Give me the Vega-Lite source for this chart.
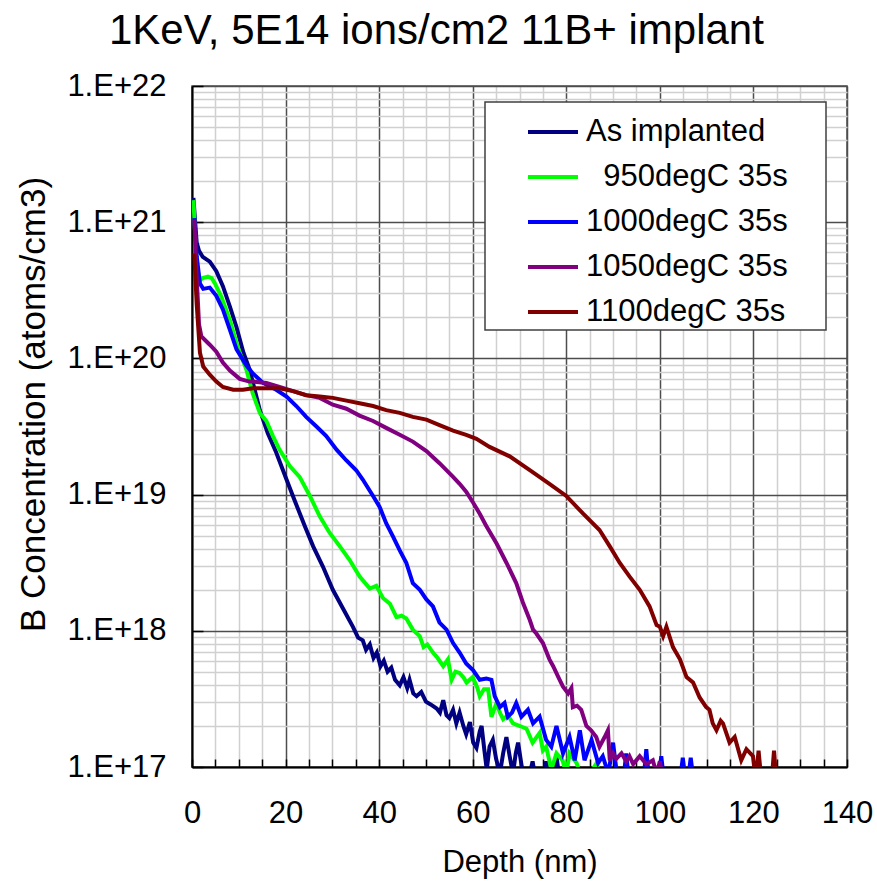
{
"$schema": "https://vega.github.io/schema/vega-lite/v6.json",
"width": 655, "height": 681,
"autosize": {"type": "none"},
"padding": {"left": 192, "top": 86, "right": 30, "bottom": 117},
"background": "white",
"title": {"text": "1KeV, 5E14 ions/cm2 11B+ implant", "font": "Liberation Sans", "fontSize": 42, "fontWeight": "normal", "color": "#000000", "anchor": "middle", "frame": "bounds", "offset": 30, "baseline": "alphabetic", "dy": 46, "dx": -8},
"config": {"view": {"stroke": "#4d4d4d", "strokeWidth": 1.5}, "font": "Liberation Sans", "legend": {"strokeWidth": 1.5}},
"datasets": {"p": [
{"s":"As implanted","d":0.3,"c":1.51e21},{"s":"As implanted","d":1.0,"c":7.08e20},{"s":"As implanted","d":1.5,"c":6.17e20},{"s":"As implanted","d":2.3,"c":5.56e20},{"s":"As implanted","d":3.8,"c":5.13e20},{"s":"As implanted","d":5.2,"c":4.37e20},{"s":"As implanted","d":6.6,"c":3.39e20},{"s":"As implanted","d":8.1,"c":2.40e20},{"s":"As implanted","d":9.5,"c":1.70e20},{"s":"As implanted","d":11.0,"c":1.10e20},{"s":"As implanted","d":12.3,"c":8.32e19},{"s":"As implanted","d":13.4,"c":5.89e19},{"s":"As implanted","d":14.5,"c":4.17e19},{"s":"As implanted","d":16.2,"c":2.82e19},{"s":"As implanted","d":18.0,"c":2.04e19},{"s":"As implanted","d":20.2,"c":1.29e19},{"s":"As implanted","d":21.9,"c":9.12e18},{"s":"As implanted","d":24.1,"c":5.89e18},{"s":"As implanted","d":25.9,"c":4.17e18},{"s":"As implanted","d":28.0,"c":2.95e18},{"s":"As implanted","d":30.1,"c":2.00e18},{"s":"As implanted","d":32.3,"c":1.45e18},{"s":"As implanted","d":34.4,"c":1.07e18},{"s":"As implanted","d":35.5,"c":8.91e17},{"s":"As implanted","d":36.5,"c":8.51e17},{"s":"As implanted","d":37.2,"c":7.24e17},{"s":"As implanted","d":38.0,"c":7.94e17},{"s":"As implanted","d":38.8,"c":6.31e17},{"s":"As implanted","d":39.5,"c":6.92e17},{"s":"As implanted","d":40.3,"c":5.50e17},{"s":"As implanted","d":41.0,"c":6.03e17},{"s":"As implanted","d":41.8,"c":5.01e17},{"s":"As implanted","d":42.6,"c":5.37e17},{"s":"As implanted","d":43.4,"c":4.37e17},{"s":"As implanted","d":44.4,"c":3.98e17},{"s":"As implanted","d":45.2,"c":4.57e17},{"s":"As implanted","d":46.0,"c":3.80e17},{"s":"As implanted","d":46.5,"c":4.37e17},{"s":"As implanted","d":47.3,"c":3.47e17},{"s":"As implanted","d":48.0,"c":3.31e17},{"s":"As implanted","d":49.0,"c":3.55e17},{"s":"As implanted","d":50.0,"c":3.02e17},{"s":"As implanted","d":51.0,"c":2.88e17},{"s":"As implanted","d":52.3,"c":2.69e17},{"s":"As implanted","d":53.0,"c":2.51e17},{"s":"As implanted","d":53.7,"c":3.09e17},{"s":"As implanted","d":54.4,"c":2.40e17},{"s":"As implanted","d":55.0,"c":2.29e17},{"s":"As implanted","d":55.8,"c":2.63e17},{"s":"As implanted","d":56.5,"c":2.09e17},{"s":"As implanted","d":57.2,"c":2.51e17},{"s":"As implanted","d":58.0,"c":2.00e17},{"s":"As implanted","d":58.6,"c":1.74e17},{"s":"As implanted","d":59.4,"c":2.14e17},{"s":"As implanted","d":60.1,"c":1.51e17},{"s":"As implanted","d":60.8,"c":1.38e17},{"s":"As implanted","d":61.5,"c":1.82e17},{"s":"As implanted","d":61.9,"c":2.00e17},{"s":"As implanted","d":62.5,"c":1.32e17},{"s":"As implanted","d":63.0,"c":9.55e16},{"s":"As implanted","d":63.6,"c":1.41e17},{"s":"As implanted","d":64.3,"c":1.58e17},{"s":"As implanted","d":65.0,"c":1.15e17},{"s":"As implanted","d":65.8,"c":8.91e16},{"s":"As implanted","d":66.5,"c":1.26e17},{"s":"As implanted","d":67.2,"c":1.66e17},{"s":"As implanted","d":67.9,"c":1.20e17},{"s":"As implanted","d":68.6,"c":8.91e16},{"s":"As implanted","d":69.2,"c":1.26e17},{"s":"As implanted","d":69.7,"c":1.51e17},{"s":"As implanted","d":70.4,"c":1.05e17},{"s":"As implanted","d":71.0,"c":7.94e16},{"s":"As implanted","d":72.2,"c":8.91e16},{"s":"As implanted","d":72.8,"c":1.10e17},{"s":"As implanted","d":73.5,"c":7.94e16},{"s":"As implanted","d":75.0,"c":8.32e16},{"s":"As implanted","d":75.7,"c":1.10e17},{"s":"As implanted","d":76.4,"c":7.94e16},{"s":"As implanted","d":77.3,"c":8.5e16},{"s":"As implanted","d":77.9,"c":1.20e17},{"s":"As implanted","d":78.6,"c":7.94e16},

{"s":"950degC 35s","d":0.3,"c":1.45e21},{"s":"950degC 35s","d":1.0,"c":5.01e20},{"s":"950degC 35s","d":1.6,"c":3.72e20},{"s":"950degC 35s","d":2.3,"c":3.89e20},{"s":"950degC 35s","d":3.4,"c":3.98e20},{"s":"950degC 35s","d":4.2,"c":3.89e20},{"s":"950degC 35s","d":4.9,"c":3.55e20},{"s":"950degC 35s","d":6.3,"c":2.82e20},{"s":"950degC 35s","d":8.1,"c":1.91e20},{"s":"950degC 35s","d":9.8,"c":1.20e20},{"s":"950degC 35s","d":11.6,"c":8.32e19},{"s":"950degC 35s","d":13.0,"c":5.50e19},{"s":"950degC 35s","d":14.5,"c":3.98e19},{"s":"950degC 35s","d":15.9,"c":3.47e19},{"s":"950degC 35s","d":17.3,"c":2.69e19},{"s":"950degC 35s","d":18.7,"c":2.14e19},{"s":"950degC 35s","d":20.9,"c":1.62e19},{"s":"950degC 35s","d":23.0,"c":1.35e19},{"s":"950degC 35s","d":25.2,"c":9.77e18},{"s":"950degC 35s","d":27.3,"c":6.92e18},{"s":"950degC 35s","d":29.4,"c":5.25e18},{"s":"950degC 35s","d":31.6,"c":4.17e18},{"s":"950degC 35s","d":33.7,"c":3.31e18},{"s":"950degC 35s","d":35.8,"c":2.51e18},{"s":"950degC 35s","d":38.0,"c":2.04e18},{"s":"950degC 35s","d":39.4,"c":2.14e18},{"s":"950degC 35s","d":40.8,"c":1.74e18},{"s":"950degC 35s","d":42.3,"c":1.58e18},{"s":"950degC 35s","d":43.7,"c":1.26e18},{"s":"950degC 35s","d":44.8,"c":1.29e18},{"s":"950degC 35s","d":45.8,"c":1.23e18},{"s":"950degC 35s","d":47.2,"c":1.02e18},{"s":"950degC 35s","d":48.7,"c":9.12e17},{"s":"950degC 35s","d":49.5,"c":7.59e17},{"s":"950degC 35s","d":50.3,"c":7.94e17},{"s":"950degC 35s","d":51.5,"c":6.92e17},{"s":"950degC 35s","d":52.5,"c":6.31e17},{"s":"950degC 35s","d":53.7,"c":5.50e17},{"s":"950degC 35s","d":54.7,"c":6.17e17},{"s":"950degC 35s","d":55.5,"c":4.37e17},{"s":"950degC 35s","d":56.3,"c":5.01e17},{"s":"950degC 35s","d":57.2,"c":4.90e17},{"s":"950degC 35s","d":58.0,"c":4.57e17},{"s":"950degC 35s","d":58.7,"c":4.17e17},{"s":"950degC 35s","d":60.0,"c":4.57e17},{"s":"950degC 35s","d":61.0,"c":3.80e17},{"s":"950degC 35s","d":61.5,"c":3.31e17},{"s":"950degC 35s","d":62.4,"c":3.72e17},{"s":"950degC 35s","d":63.3,"c":3.72e17},{"s":"950degC 35s","d":64.0,"c":2.34e17},{"s":"950degC 35s","d":65.1,"c":2.95e17},{"s":"950degC 35s","d":65.8,"c":2.51e17},{"s":"950degC 35s","d":66.5,"c":2.24e17},{"s":"950degC 35s","d":67.5,"c":2.40e17},{"s":"950degC 35s","d":68.6,"c":2.09e17},{"s":"950degC 35s","d":70.1,"c":2.00e17},{"s":"950degC 35s","d":71.5,"c":1.91e17},{"s":"950degC 35s","d":72.8,"c":1.51e17},{"s":"950degC 35s","d":74.3,"c":1.78e17},{"s":"950degC 35s","d":75.0,"c":1.32e17},{"s":"950degC 35s","d":75.7,"c":1.41e17},{"s":"950degC 35s","d":76.8,"c":9.55e16},{"s":"950degC 35s","d":77.9,"c":1.26e17},{"s":"950degC 35s","d":79.2,"c":1.12e17},{"s":"950degC 35s","d":80.0,"c":8.91e16},{"s":"950degC 35s","d":80.7,"c":1.26e17},{"s":"950degC 35s","d":82.2,"c":1.07e17},{"s":"950degC 35s","d":83.5,"c":7.94e16},{"s":"950degC 35s","d":85.0,"c":8.91e16},{"s":"950degC 35s","d":86.5,"c":1.07e17},{"s":"950degC 35s","d":87.5,"c":7.94e16},

{"s":"1000degC 35s","d":0.5,"c":1.07e21},{"s":"1000degC 35s","d":1.0,"c":5.62e20},{"s":"1000degC 35s","d":1.7,"c":3.55e20},{"s":"1000degC 35s","d":2.4,"c":3.24e20},{"s":"1000degC 35s","d":3.8,"c":3.31e20},{"s":"1000degC 35s","d":5.2,"c":2.88e20},{"s":"1000degC 35s","d":6.6,"c":2.29e20},{"s":"1000degC 35s","d":8.1,"c":1.62e20},{"s":"1000degC 35s","d":9.5,"c":1.17e20},{"s":"1000degC 35s","d":11.6,"c":8.91e19},{"s":"1000degC 35s","d":13.0,"c":7.76e19},{"s":"1000degC 35s","d":15.2,"c":6.61e19},{"s":"1000degC 35s","d":18.0,"c":5.89e19},{"s":"1000degC 35s","d":20.2,"c":5.25e19},{"s":"1000degC 35s","d":22.3,"c":4.47e19},{"s":"1000degC 35s","d":24.4,"c":3.72e19},{"s":"1000degC 35s","d":26.6,"c":3.16e19},{"s":"1000degC 35s","d":28.7,"c":2.69e19},{"s":"1000degC 35s","d":30.9,"c":2.14e19},{"s":"1000degC 35s","d":33.0,"c":1.78e19},{"s":"1000degC 35s","d":35.1,"c":1.51e19},{"s":"1000degC 35s","d":36.5,"c":1.29e19},{"s":"1000degC 35s","d":38.7,"c":9.77e18},{"s":"1000degC 35s","d":40.1,"c":8.13e18},{"s":"1000degC 35s","d":41.5,"c":6.17e18},{"s":"1000degC 35s","d":43.0,"c":4.90e18},{"s":"1000degC 35s","d":44.4,"c":3.89e18},{"s":"1000degC 35s","d":45.8,"c":3.16e18},{"s":"1000degC 35s","d":47.2,"c":2.24e18},{"s":"1000degC 35s","d":48.7,"c":2.00e18},{"s":"1000degC 35s","d":50.1,"c":1.70e18},{"s":"1000degC 35s","d":51.5,"c":1.51e18},{"s":"1000degC 35s","d":52.9,"c":1.15e18},{"s":"1000degC 35s","d":54.4,"c":1.02e18},{"s":"1000degC 35s","d":55.8,"c":8.13e17},{"s":"1000degC 35s","d":57.2,"c":6.92e17},{"s":"1000degC 35s","d":58.6,"c":5.75e17},{"s":"1000degC 35s","d":60.1,"c":5.13e17},{"s":"1000degC 35s","d":61.5,"c":4.37e17},{"s":"1000degC 35s","d":62.9,"c":4.47e17},{"s":"1000degC 35s","d":64.0,"c":4.37e17},{"s":"1000degC 35s","d":64.7,"c":3.31e17},{"s":"1000degC 35s","d":65.8,"c":2.75e17},{"s":"1000degC 35s","d":66.8,"c":2.95e17},{"s":"1000degC 35s","d":67.5,"c":2.34e17},{"s":"1000degC 35s","d":68.4,"c":2.51e17},{"s":"1000degC 35s","d":69.3,"c":2.95e17},{"s":"1000degC 35s","d":70.4,"c":2.34e17},{"s":"1000degC 35s","d":71.8,"c":2.63e17},{"s":"1000degC 35s","d":72.9,"c":2.09e17},{"s":"1000degC 35s","d":74.3,"c":2.34e17},{"s":"1000degC 35s","d":75.7,"c":1.58e17},{"s":"1000degC 35s","d":76.8,"c":1.41e17},{"s":"1000degC 35s","d":77.9,"c":2.00e17},{"s":"1000degC 35s","d":79.3,"c":1.26e17},{"s":"1000degC 35s","d":80.7,"c":1.66e17},{"s":"1000degC 35s","d":81.8,"c":1.12e17},{"s":"1000degC 35s","d":82.9,"c":1.86e17},{"s":"1000degC 35s","d":83.9,"c":1.12e17},{"s":"1000degC 35s","d":85.4,"c":1.58e17},{"s":"1000degC 35s","d":86.8,"c":1.07e17},{"s":"1000degC 35s","d":87.8,"c":1.20e17},{"s":"1000degC 35s","d":89.0,"c":8.91e16},{"s":"1000degC 35s","d":90.0,"c":1.51e17},{"s":"1000degC 35s","d":91.0,"c":7.94e16},{"s":"1000degC 35s","d":92.2,"c":7.94e16},{"s":"1000degC 35s","d":92.8,"c":1.26e17},{"s":"1000degC 35s","d":93.4,"c":7.94e16},{"s":"1000degC 35s","d":96.5,"c":7.94e16},{"s":"1000degC 35s","d":97.1,"c":1.35e17},{"s":"1000degC 35s","d":97.7,"c":7.94e16},{"s":"1000degC 35s","d":99.7,"c":7.94e16},{"s":"1000degC 35s","d":100.3,"c":1.20e17},{"s":"1000degC 35s","d":100.9,"c":7.94e16},{"s":"1000degC 35s","d":104.3,"c":7.94e16},{"s":"1000degC 35s","d":104.9,"c":1.17e17},{"s":"1000degC 35s","d":105.5,"c":7.94e16},{"s":"1000degC 35s","d":106.0,"c":7.94e16},{"s":"1000degC 35s","d":106.6,"c":1.17e17},{"s":"1000degC 35s","d":107.2,"c":7.94e16},

{"s":"1050degC 35s","d":0.5,"c":1.05e21},{"s":"1050degC 35s","d":1.0,"c":3.98e20},{"s":"1050degC 35s","d":1.5,"c":1.78e20},{"s":"1050degC 35s","d":2.0,"c":1.45e20},{"s":"1050degC 35s","d":3.8,"c":1.26e20},{"s":"1050degC 35s","d":5.2,"c":1.12e20},{"s":"1050degC 35s","d":6.6,"c":9.33e19},{"s":"1050degC 35s","d":8.1,"c":8.13e19},{"s":"1050degC 35s","d":9.5,"c":7.41e19},{"s":"1050degC 35s","d":10.2,"c":7.08e19},{"s":"1050degC 35s","d":12.3,"c":6.76e19},{"s":"1050degC 35s","d":13.0,"c":6.76e19},{"s":"1050degC 35s","d":15.9,"c":6.61e19},{"s":"1050degC 35s","d":18.7,"c":6.17e19},{"s":"1050degC 35s","d":21.6,"c":5.75e19},{"s":"1050degC 35s","d":24.4,"c":5.37e19},{"s":"1050degC 35s","d":27.3,"c":5.13e19},{"s":"1050degC 35s","d":30.1,"c":4.57e19},{"s":"1050degC 35s","d":33.0,"c":4.27e19},{"s":"1050degC 35s","d":35.8,"c":3.80e19},{"s":"1050degC 35s","d":38.7,"c":3.47e19},{"s":"1050degC 35s","d":41.5,"c":3.09e19},{"s":"1050degC 35s","d":44.4,"c":2.75e19},{"s":"1050degC 35s","d":47.2,"c":2.45e19},{"s":"1050degC 35s","d":50.1,"c":2.09e19},{"s":"1050degC 35s","d":52.9,"c":1.70e19},{"s":"1050degC 35s","d":55.8,"c":1.35e19},{"s":"1050degC 35s","d":57.2,"c":1.20e19},{"s":"1050degC 35s","d":58.6,"c":1.05e19},{"s":"1050degC 35s","d":60.1,"c":8.71e18},{"s":"1050degC 35s","d":61.5,"c":7.24e18},{"s":"1050degC 35s","d":62.9,"c":5.89e18},{"s":"1050degC 35s","d":65.1,"c":4.37e18},{"s":"1050degC 35s","d":67.2,"c":3.16e18},{"s":"1050degC 35s","d":69.3,"c":2.24e18},{"s":"1050degC 35s","d":70.7,"c":1.62e18},{"s":"1050degC 35s","d":72.2,"c":1.20e18},{"s":"1050degC 35s","d":72.9,"c":1.02e18},{"s":"1050degC 35s","d":73.6,"c":9.55e17},{"s":"1050degC 35s","d":75.0,"c":8.13e17},{"s":"1050degC 35s","d":76.4,"c":6.17e17},{"s":"1050degC 35s","d":77.2,"c":5.50e17},{"s":"1050degC 35s","d":78.3,"c":4.57e17},{"s":"1050degC 35s","d":79.3,"c":3.89e17},{"s":"1050degC 35s","d":80.4,"c":3.47e17},{"s":"1050degC 35s","d":81.1,"c":3.80e17},{"s":"1050degC 35s","d":81.4,"c":2.75e17},{"s":"1050degC 35s","d":82.3,"c":2.82e17},{"s":"1050degC 35s","d":83.2,"c":2.63e17},{"s":"1050degC 35s","d":84.3,"c":2.00e17},{"s":"1050degC 35s","d":85.3,"c":1.86e17},{"s":"1050degC 35s","d":86.4,"c":1.66e17},{"s":"1050degC 35s","d":87.1,"c":1.41e17},{"s":"1050degC 35s","d":88.2,"c":1.66e17},{"s":"1050degC 35s","d":88.9,"c":1.86e17},{"s":"1050degC 35s","d":89.3,"c":1.12e17},{"s":"1050degC 35s","d":90.0,"c":1.26e17},{"s":"1050degC 35s","d":90.7,"c":1.15e17},{"s":"1050degC 35s","d":91.8,"c":1.26e17},{"s":"1050degC 35s","d":92.8,"c":1.10e17},{"s":"1050degC 35s","d":93.5,"c":1.20e17},{"s":"1050degC 35s","d":94.3,"c":1.05e17},{"s":"1050degC 35s","d":95.7,"c":1.20e17},{"s":"1050degC 35s","d":97.1,"c":1.05e17},{"s":"1050degC 35s","d":98.5,"c":1.12e17},{"s":"1050degC 35s","d":99.3,"c":8.91e16},{"s":"1050degC 35s","d":100.0,"c":1.10e17},{"s":"1050degC 35s","d":100.7,"c":7.94e16},

{"s":"1100degC 35s","d":0.5,"c":5.89e20},{"s":"1100degC 35s","d":1.0,"c":2.51e20},{"s":"1100degC 35s","d":1.7,"c":1.10e20},{"s":"1100degC 35s","d":2.4,"c":8.71e19},{"s":"1100degC 35s","d":3.8,"c":7.59e19},{"s":"1100degC 35s","d":5.2,"c":6.76e19},{"s":"1100degC 35s","d":6.6,"c":6.17e19},{"s":"1100degC 35s","d":8.8,"c":5.89e19},{"s":"1100degC 35s","d":10.9,"c":5.89e19},{"s":"1100degC 35s","d":13.0,"c":6.03e19},{"s":"1100degC 35s","d":15.9,"c":6.03e19},{"s":"1100degC 35s","d":18.7,"c":6.03e19},{"s":"1100degC 35s","d":21.6,"c":5.75e19},{"s":"1100degC 35s","d":24.4,"c":5.37e19},{"s":"1100degC 35s","d":27.3,"c":5.25e19},{"s":"1100degC 35s","d":30.1,"c":5.13e19},{"s":"1100degC 35s","d":33.0,"c":4.90e19},{"s":"1100degC 35s","d":35.8,"c":4.68e19},{"s":"1100degC 35s","d":38.7,"c":4.47e19},{"s":"1100degC 35s","d":41.5,"c":4.17e19},{"s":"1100degC 35s","d":44.4,"c":3.98e19},{"s":"1100degC 35s","d":47.2,"c":3.72e19},{"s":"1100degC 35s","d":50.1,"c":3.55e19},{"s":"1100degC 35s","d":52.9,"c":3.24e19},{"s":"1100degC 35s","d":55.8,"c":2.95e19},{"s":"1100degC 35s","d":58.6,"c":2.75e19},{"s":"1100degC 35s","d":60.8,"c":2.57e19},{"s":"1100degC 35s","d":63.6,"c":2.24e19},{"s":"1100degC 35s","d":67.9,"c":1.91e19},{"s":"1100degC 35s","d":72.2,"c":1.51e19},{"s":"1100degC 35s","d":76.4,"c":1.20e19},{"s":"1100degC 35s","d":80.0,"c":9.77e18},{"s":"1100degC 35s","d":83.6,"c":7.24e18},{"s":"1100degC 35s","d":87.1,"c":5.50e18},{"s":"1100degC 35s","d":89.3,"c":4.17e18},{"s":"1100degC 35s","d":91.4,"c":3.16e18},{"s":"1100degC 35s","d":93.5,"c":2.51e18},{"s":"1100degC 35s","d":95.7,"c":2.00e18},{"s":"1100degC 35s","d":97.8,"c":1.51e18},{"s":"1100degC 35s","d":99.3,"c":1.10e18},{"s":"1100degC 35s","d":100.0,"c":1.07e18},{"s":"1100degC 35s","d":100.7,"c":9.12e17},{"s":"1100degC 35s","d":101.4,"c":1.07e18},{"s":"1100degC 35s","d":102.8,"c":7.59e17},{"s":"1100degC 35s","d":104.3,"c":6.17e17},{"s":"1100degC 35s","d":105.7,"c":4.57e17},{"s":"1100degC 35s","d":107.1,"c":4.17e17},{"s":"1100degC 35s","d":108.5,"c":3.24e17},{"s":"1100degC 35s","d":109.9,"c":2.75e17},{"s":"1100degC 35s","d":110.6,"c":2.63e17},{"s":"1100degC 35s","d":111.3,"c":2.09e17},{"s":"1100degC 35s","d":112.1,"c":1.86e17},{"s":"1100degC 35s","d":113.0,"c":2.19e17},{"s":"1100degC 35s","d":113.5,"c":2.09e17},{"s":"1100degC 35s","d":114.9,"c":1.51e17},{"s":"1100degC 35s","d":116.0,"c":1.66e17},{"s":"1100degC 35s","d":117.4,"c":1.12e17},{"s":"1100degC 35s","d":118.5,"c":1.35e17},{"s":"1100degC 35s","d":119.9,"c":1.20e17},{"s":"1100degC 35s","d":120.5,"c":7.94e16},{"s":"1100degC 35s","d":121.1,"c":1.32e17},{"s":"1100degC 35s","d":121.7,"c":7.94e16},{"s":"1100degC 35s","d":123.9,"c":7.94e16},{"s":"1100degC 35s","d":124.4,"c":1.32e17},{"s":"1100degC 35s","d":124.9,"c":7.94e16}
]},
"data": {"name": "p"},
"mark": {"type": "line", "strokeWidth": 4, "clip": true},
"encoding": {
  "x": {"field": "d", "type": "quantitative",
    "scale": {"domain": [0, 140], "nice": false},
    "axis": {"values": [0,5,10,15,20,25,30,35,40,45,50,55,60,65,70,75,80,85,90,95,100,105,110,115,120,125,130,135,140],
      "title": "Depth (nm)", "titleFont": "Liberation Sans", "titleFontSize": 31, "titleFontWeight": "normal", "titleColor": "#000000", "titleY": 104, "titleBaseline": "alphabetic",
      "labelExpr": "datum.value % 20 === 0 ? datum.label : ''", "labelFont": "Liberation Sans", "labelFontSize": 31, "labelColor": "#000000", "labelPadding": 39, "labelOverlap": false, "labelFlush": false, "labelBound": false,
      "tickSize": -8, "tickColor": "#000000", "tickWidth": 1.5,
      "grid": true, "gridColor": {"condition": {"test": "datum.value % 20 === 0", "value": "#4d4d4d"}, "value": "#d0d0d0"}, "gridWidth": 1.5,
      "domainColor": "#000000", "domainWidth": 2}},
  "y": {"field": "c", "type": "quantitative",
    "scale": {"type": "log", "domain": [1e17, 1e22], "nice": false},
    "axis": {"values": [1e17,2e17,3e17,4e17,5e17,6e17,7e17,8e17,9e17,1e18,2e18,3e18,4e18,5e18,6e18,7e18,8e18,9e18,1e19,2e19,3e19,4e19,5e19,6e19,7e19,8e19,9e19,1e20,2e20,3e20,4e20,5e20,6e20,7e20,8e20,9e20,1e21,2e21,3e21,4e21,5e21,6e21,7e21,8e21,9e21,1e22],
      "title": "B Concentration (atoms/cm3)", "titleFont": "Liberation Sans", "titleFontSize": 35, "titleFontWeight": "normal", "titleColor": "#000000", "titleX": -159, "titleY": 318, "titleAngle": -90, "titleAlign": "center", "titleBaseline": "middle",
      "labelExpr": "abs(log(datum.value)/LN10 - round(log(datum.value)/LN10)) < 0.001 ? '1.E+' + round(log(datum.value)/LN10) : ''",
      "labelFont": "Liberation Sans", "labelFontSize": 31, "labelColor": "#000000", "labelPadding": 37, "labelOverlap": false, "labelFlush": false, "labelBound": false,
      "tickSize": -11, "tickColor": "#000000", "tickWidth": 1.5,
      "tickOpacity": {"condition": {"test": "abs(log(datum.value)/LN10 - round(log(datum.value)/LN10)) < 0.001", "value": 1}, "value": 0},
      "grid": true, "gridColor": {"condition": {"test": "abs(log(datum.value)/LN10 - round(log(datum.value)/LN10)) < 0.001", "value": "#4d4d4d"}, "value": "#d0d0d0"}, "gridWidth": 1.5,
      "domainColor": "#000000", "domainWidth": 2}},
  "color": {"field": "s", "type": "nominal",
    "scale": {"domain": ["As implanted", "950degC 35s", "1000degC 35s", "1050degC 35s", "1100degC 35s"], "range": ["#000080", "#00FF00", "#0000FF", "#800080", "#800000"]},
    "legend": {"orient": "none", "legendX": 293, "legendY": 16, "title": null, "symbolType": "stroke", "symbolSize": 2500, "symbolStrokeWidth": 4, "labelFont": "Liberation Sans", "labelFontSize": 31, "labelColor": "#000000", "labelLimit": 400, "labelExpr": "(datum.label == '950degC 35s' ? '\u200b\u00a0\u00a0' : '') + datum.label + '\u00a0\u00a0\u00a0\u00a0\u200b'", "fillColor": "#ffffff", "strokeColor": "#404040", "padding": 3, "symbolOffset": 38, "labelOffset": 6, "rowPadding": 3}}
}
}
